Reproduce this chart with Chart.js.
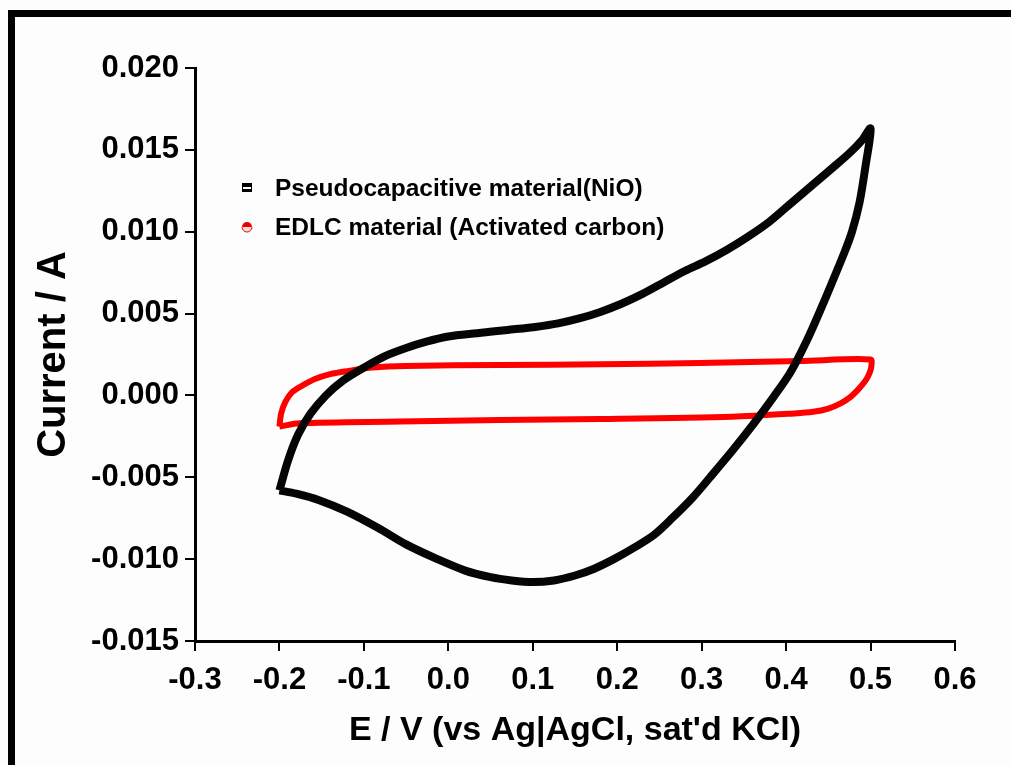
<!DOCTYPE html>
<html>
<head>
<meta charset="utf-8">
<title>CV: NiO vs activated carbon</title>
<script src="https://cdn.jsdelivr.net/npm/chart.js@4.4.0/dist/chart.umd.min.js"></script>
<style>
  html, body { margin: 0; padding: 0; background: #fdfdfd; }
  #wrap { position: relative; width: 1011px; height: 765px; overflow: hidden; }
  #frame { position: absolute; left: 8px; top: 10px; right: -20px; bottom: -20px;
           border-top: 7px solid #000; border-left: 7px solid #000; pointer-events: none; }
  #cvChart { position: absolute; left: 0; top: 0; }
</style>
</head>
<body>
<div id="wrap">
  <canvas id="cvChart" width="1011" height="765"></canvas>
  <div id="frame"></div>
</div>
<script>
// Values: potential (V) and current (A), forward sweep then reverse
var nioPotential = [-0.200, -0.190, -0.178, -0.163, -0.145, -0.125, -0.100, -0.075, -0.050, -0.025,
                    0.000, 0.034, 0.070, 0.105, 0.130, 0.155, 0.180, 0.205, 0.230, 0.255,
                    0.280, 0.305, 0.330, 0.355, 0.380, 0.405, 0.430, 0.455, 0.475, 0.490, 0.500,
                    0.494, 0.487, 0.478, 0.468, 0.456, 0.443, 0.425, 0.405, 0.385, 0.362,
                    0.336, 0.310, 0.290, 0.265, 0.244, 0.220, 0.196, 0.172, 0.150, 0.125,
                    0.100, 0.075, 0.050, 0.020, -0.013, -0.050, -0.083, -0.120, -0.153, -0.180, -0.200];
var nioCurrent = [-0.0058, -0.0040, -0.0024, -0.0011, 0.0000, 0.0009, 0.0017, 0.0024, 0.0029, 0.0033,
                  0.0036, 0.0038, 0.0040, 0.0042, 0.0044, 0.0047, 0.0051, 0.0056, 0.0062, 0.0069,
                  0.0076, 0.0082, 0.0089, 0.0097, 0.0106, 0.0117, 0.0128, 0.0139, 0.0148, 0.0156, 0.0163,
                  0.0140, 0.0118, 0.0100, 0.0086, 0.0071, 0.0055, 0.0034, 0.0014, -0.0001, -0.0017,
                  -0.0034, -0.0050, -0.0062, -0.0075, -0.0085, -0.0093, -0.0100, -0.0106, -0.0110, -0.0113,
                  -0.0114, -0.0113, -0.0111, -0.0107, -0.0100, -0.0091, -0.0081, -0.0071, -0.0064, -0.0060, -0.0058];

var carbonPotential = [-0.200, -0.198, -0.193, -0.185, -0.173, -0.158, -0.140, -0.118, -0.090, -0.050,
                       0.061, 0.180, 0.298, 0.417, 0.500,
                       0.501, 0.499, 0.494, 0.486, 0.476, 0.464, 0.450, 0.432, 0.410, 0.336,
                       0.180, 0.061, -0.057, -0.176, -0.200];
var carbonCurrent = [-0.0019, -0.0011, -0.0004, 0.0002, 0.0006, 0.0010, 0.0013, 0.0015, 0.0017, 0.0018,
                     0.00186, 0.0019, 0.00198, 0.0021, 0.0022,
                     0.0018, 0.0014, 0.0009, 0.0004, -0.0001, -0.0005, -0.0008, -0.0010, -0.0011, -0.0013,
                     -0.00144, -0.0015, -0.0016, -0.0017, -0.0019];

var xTicks = [-0.3, -0.2, -0.1, 0.0, 0.1, 0.2, 0.3, 0.4, 0.5, 0.6];
var yTicks = [-0.015, -0.010, -0.005, 0.000, 0.005, 0.010, 0.015, 0.020];
var seriesLabels = ['Pseudocapacitive material(NiO)', 'EDLC material (Activated carbon)'];

var fontFamily = '"Liberation Sans", Arial, sans-serif';

function toPoints(xs, ys) {
    return xs.map(function(x, i) { return { x: x, y: ys[i] }; });
}

// Legend drawn inside the plot, like the original figure
var cvLegend = {
    id: 'cvLegend',
    afterDatasetsDraw: function(chart) {
        var ctx = chart.ctx;
        ctx.save();
        ctx.font = 'bold 24.5px ' + fontFamily;
        ctx.textBaseline = 'middle';
        chart.data.datasets.slice(0, 2).forEach(function(ds, i) {
            var y = 188 + i * 39;
            if (i === 0) {
                ctx.fillStyle = '#000';
                ctx.fillRect(242, y - 5, 10, 9);
                ctx.fillStyle = '#fff';
                ctx.fillRect(243, y - 1, 8, 2);
            } else {
                ctx.beginPath();
                ctx.arc(247, y, 5, Math.PI, 2 * Math.PI);
                ctx.fillStyle = '#e00';
                ctx.fill();
                ctx.beginPath();
                ctx.arc(247, y, 5, 0, Math.PI);
                ctx.fillStyle = '#fdd';
                ctx.fill();
                ctx.strokeStyle = '#e00';
                ctx.lineWidth = 1;
                ctx.stroke();
            }
            ctx.fillStyle = '#000';
            ctx.fillText(ds.label, 275, y + 1);
        });
        ctx.restore();
    }
};

new Chart(document.getElementById('cvChart'), {
    type: 'line',
    data: {
        datasets: [{
            label: seriesLabels[0],
            data: toPoints(nioPotential, nioCurrent),
            borderColor: '#050505',
            borderWidth: 8,
            pointRadius: 0,
            tension: 0.3,
            fill: false
        }, {
            label: seriesLabels[1],
            data: toPoints(carbonPotential, carbonCurrent),
            borderColor: '#f00',
            borderWidth: 6,
            pointRadius: 0,
            tension: 0.3,
            fill: false
        }, {
            // lighter core of the red marker band
            label: 'core',
            data: toPoints(carbonPotential, carbonCurrent),
            borderColor: 'rgba(255,200,200,0.9)',
            borderWidth: 1.5,
            pointRadius: 0,
            tension: 0.3,
            fill: false
        }]
    },
    options: {
        responsive: false,
        animation: false,
        layout: { padding: { top: 68, right: 56, left: 0, bottom: 0 } },
        plugins: {
            legend: { display: false },
            tooltip: { enabled: false }
        },
        scales: {
            x: {
                type: 'linear',
                min: xTicks[0],
                max: xTicks[xTicks.length - 1],
                afterBuildTicks: function(scale) {
                    scale.ticks = xTicks.map(function(v) { return { value: v }; });
                },
                afterFit: function(scale) { scale.height = 124; },
                border: { display: true, color: '#000', width: 3 },
                grid: { drawOnChartArea: false, drawTicks: true, tickLength: 10, color: '#000', lineWidth: 2 },
                ticks: {
                    color: '#000',
                    padding: 11,
                    maxRotation: 0,
                    font: { family: fontFamily, size: 31, weight: 'bold' },
                    callback: function(v) { return Number(v).toFixed(1); }
                },
                title: {
                    display: true,
                    text: "E / V (vs Ag|AgCl, sat'd KCl)",
                    color: '#000',
                    font: { family: fontFamily, size: 34, weight: 'bold' },
                    padding: { top: 0, bottom: 14 }
                }
            },
            y: {
                type: 'linear',
                min: yTicks[0],
                max: yTicks[yTicks.length - 1],
                afterBuildTicks: function(scale) {
                    scale.ticks = yTicks.map(function(v) { return { value: v }; });
                },
                afterFit: function(scale) { scale.width = 195; },
                border: { display: true, color: '#000', width: 3 },
                grid: { drawOnChartArea: false, drawTicks: true, tickLength: 10, color: '#000', lineWidth: 2 },
                ticks: {
                    color: '#000',
                    padding: 6,
                    font: { family: fontFamily, size: 31, weight: 'bold' },
                    callback: function(v) { return Number(v).toFixed(3); }
                },
                title: {
                    display: true,
                    text: 'Current / A',
                    color: '#000',
                    font: { family: fontFamily, size: 40, weight: 'bold' },
                    padding: { top: 30, bottom: 0 }
                }
            }
        }
    },
    plugins: [cvLegend]
});
</script>
</body>
</html>
